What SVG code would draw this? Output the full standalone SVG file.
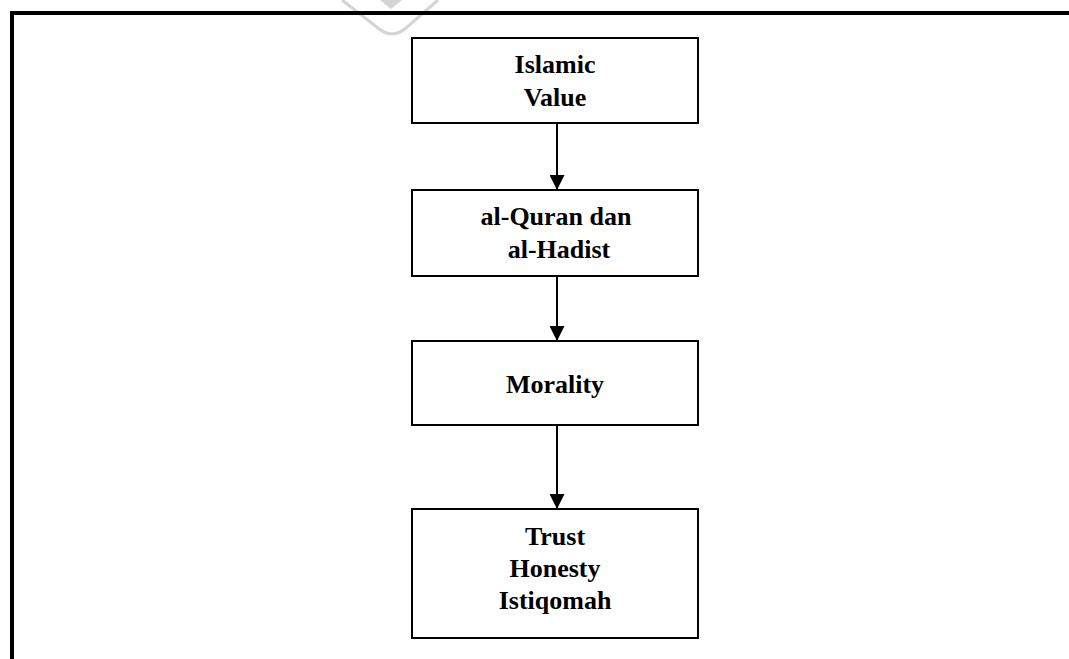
<svg xmlns="http://www.w3.org/2000/svg" width="1069" height="659" viewBox="0 0 1069 659">
  <style>
    .box { fill: #fff; stroke: #000; stroke-width: 2; }
    .lbl { font-family: "Liberation Serif", "Times New Roman", serif; font-weight: bold; font-size: 26px; fill: #000; text-anchor: middle; }
    .wire { stroke: #000; stroke-width: 2; fill: none; }
  </style>
  <defs>
    <marker id="head" markerWidth="15" markerHeight="15" viewBox="0 0 15 15" refX="15" refY="7.5" orient="auto" markerUnits="userSpaceOnUse">
      <path d="M0,0 L15,7.5 L0,15 Z" fill="#000"/>
    </marker>
  </defs>
  <rect width="1069" height="659" fill="#fff"/>

  <!-- faint stamp mark at the top edge -->
  <g id="stamp" fill="none" stroke="#d4d4d4" stroke-width="3">
    <path d="M342,0 L378,28 Q392,40 406,28 L438,0"/>
    <path d="M380,0 L402,0 L391,9 Z" fill="#d4d4d4" stroke="none"/>
  </g>

  <!-- page frame -->
  <path id="frame" d="M12,659 V13 H1069" fill="none" stroke="#000" stroke-width="4"/>

  <g id="connectors">
    <line class="wire" x1="557" y1="123" x2="557" y2="190" marker-end="url(#head)"/>
    <line class="wire" x1="557" y1="276" x2="557" y2="341" marker-end="url(#head)"/>
    <line class="wire" x1="557" y1="425" x2="557" y2="509" marker-end="url(#head)"/>
  </g>

  <g id="islamic-value">
    <rect class="box" x="412" y="38" width="286" height="85"/>
    <text class="lbl" x="555" y="73">Islamic</text>
    <text class="lbl" x="555" y="106">Value</text>
  </g>

  <g id="quran-hadist">
    <rect class="box" x="412" y="190" width="286" height="86"/>
    <text class="lbl" x="556" y="225">al-Quran dan</text>
    <text class="lbl" x="559" y="258">al-Hadist</text>
  </g>

  <g id="morality">
    <rect class="box" x="412" y="341" width="286" height="84"/>
    <text class="lbl" x="555" y="393">Morality</text>
  </g>

  <g id="virtues">
    <rect class="box" x="412" y="509" width="286" height="129"/>
    <text class="lbl" x="555" y="545">Trust</text>
    <text class="lbl" x="555" y="577">Honesty</text>
    <text class="lbl" x="555" y="609">Istiqomah</text>
  </g>
</svg>
